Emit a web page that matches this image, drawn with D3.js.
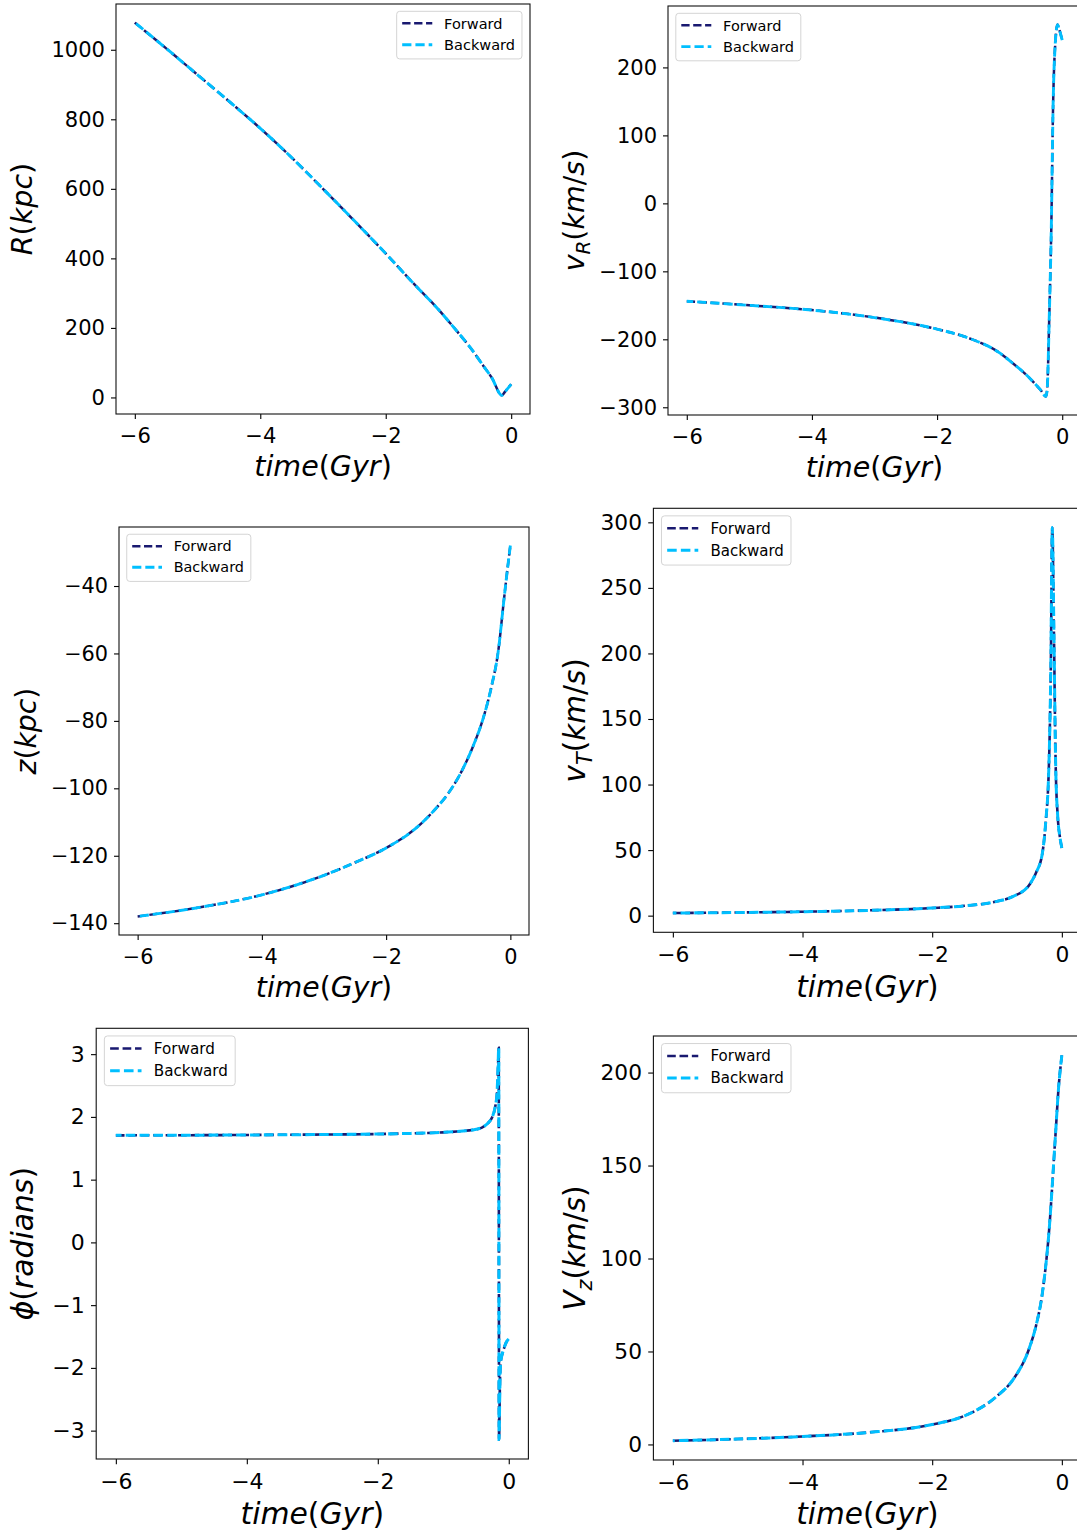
<!DOCTYPE html>
<html>
<head>
<meta charset="utf-8">
<script src="https://cdn.jsdelivr.net/npm/d3@7"></script>
<style>
  body { margin: 0; background: #fff; }
  svg { display: block; }
</style>
</head>
<body>
<svg id="fig" width="1077" height="1531"></svg>
<script>
// orbit values (time in Gyr)
const timeR = [-6, -5.5, -5, -4.5, -4, -3.5, -3, -2.5, -2, -1.5, -1.2, -0.89, -0.65, -0.44, -0.31, -0.148, -0.1, -0.05, 0];
const valR  = [1078, 1004, 928, 852, 774, 690, 600, 508, 414, 317, 261, 196, 143, 90, 57, 6, 16, 27, 38];

const timeVR = [-6, -5, -4, -3, -2, -1.5, -1, -0.78, -0.6, -0.46, -0.35, -0.26, -0.24, -0.208, -0.176, -0.144, -0.112, -0.075, -0.048, 0];
const valVR  = [-144, -150, -157, -168, -185, -198, -220, -236, -250, -263, -274, -284, -273, -170, -43, 153, 234, 263, 256, 240];

const timeZ = [-6, -5, -4, -3, -2.5, -2, -1.5, -1.2, -1, -0.8, -0.6, -0.45, -0.3, -0.2, -0.1, -0.05, 0];
const valZ  = [-138, -135.3, -131.6, -125.8, -122, -117.7, -111.5, -106, -101.5, -95.5, -87.5, -80, -69.5, -60, -43.5, -35.5, -28];

const timeVT = [-6, -5, -4, -3, -2, -1.5, -1, -0.75, -0.5, -0.4, -0.3, -0.25, -0.2, -0.17, -0.148, -0.122, -0.095, -0.064, -0.03, 0];
const valVT  = [2.0, 2.4, 3.0, 4.0, 5.8, 7.5, 10.9, 14.7, 23.6, 32.5, 47.8, 70.6, 114, 190, 296, 215, 114, 76, 60, 51.6];

const timePhi = [-6, -5, -4, -3, -2, -1.5, -1, -0.7, -0.56, -0.41, -0.3, -0.255, -0.2, -0.18, -0.165, -0.153, -0.148, -0.14, -0.132, -0.122, -0.1, -0.076, -0.05, -0.025, 0];
const valPhi  = [1.706, 1.708, 1.712, 1.718, 1.727, 1.737, 1.754, 1.775, 1.79, 1.83, 1.92, 1.99, 2.2, 2.36, 2.74, 3.1, -3.14, -2.6, -2.1, -1.9, -1.78, -1.7, -1.62, -1.57, -1.54];

const timeVZ = [-6, -5, -4, -3, -2, -1.5, -1, -0.75, -0.5, -0.4, -0.3, -0.2, -0.1, -0.05, 0];
const valVZ  = [2.0, 2.9, 4.3, 6.4, 10.7, 15.4, 26, 35, 52, 63.6, 81.5, 113.7, 165.5, 192, 209.3];

const xTicks = [-6, -4, -2, 0];
const ticksR = [0, 200, 400, 600, 800, 1000];
const ticksVR = [-300, -200, -100, 0, 100, 200];
const ticksZ = [-140, -120, -100, -80, -60, -40];
const ticksVT = [0, 50, 100, 150, 200, 250, 300];
const ticksPhi = [-3, -2, -1, 0, 1, 2, 3];
const ticksVZ = [0, 50, 100, 150, 200];

const seriesNames = ["Forward", "Backward"];
const seriesColors = ["#191970", "#00bfff"];

const FONT = "DejaVu Sans";
const svg = d3.select("#fig");
svg.append("rect").attr("width", 1077).attr("height", 1531).attr("fill", "#fff");

// label pieces: i = italic letter, r = roman, s = italic subscript
const timeLabel = [["time", "i"], ["(", "r"], ["Gyr", "i"], [")", "r"]];

const panels = [
    { time: timeR, values: valR, yTicks: ticksR, box: [116, 530, 4, 414], legend: "right", ylabOff: 84,
      ylabel: [["R", "i"], ["(", "r"], ["kpc", "i"], [")", "r"]] },
    { time: timeVR, values: valVR, yTicks: ticksVR, box: [668, 1081, 6, 415], legend: "left", ylabOff: 84,
      ylabel: [["v", "i"], ["R", "s"], ["(", "r"], ["km", "i"], ["/", "r"], ["s", "i"], [")", "r"]] },
    { time: timeZ, values: valZ, yTicks: ticksZ, box: [119, 529, 527, 935], legend: "left", ylabOff: 83,
      ylabel: [["z", "i"], ["(", "r"], ["kpc", "i"], [")", "r"]] },
    { time: timeVT, values: valVT, yTicks: ticksVT, box: [653.4, 1081.3, 508.3, 932.3], legend: "left", ylabOff: 68,
      ylabel: [["v", "i"], ["T", "s"], ["(", "r"], ["km", "i"], ["/", "r"], ["s", "i"], [")", "r"]] },
    { time: timePhi, values: valPhi, yTicks: ticksPhi, box: [96.2, 528.4, 1028.3, 1459], legend: "left", ylabOff: 63,
      ylabel: [["\u03D5", "i"], ["(", "r"], ["radians", "i"], [")", "r"]] },
    { time: timeVZ, values: valVZ, yTicks: ticksVZ, box: [653.4, 1081.3, 1036, 1460], legend: "left", ylabOff: 68,
      ylabel: [["V", "i"], ["z", "s"], ["(", "r"], ["km", "i"], ["/", "r"], ["s", "i"], [")", "r"]] }
];

function padExtent(arr) {
    const [a, b] = d3.extent(arr);
    const m = (b - a) * 0.05;
    return [a - m, b + m];
}

const fmt = d => d < 0 ? "\u2212" + Math.abs(d) : String(d);

function mathText(sel, parts, size) {
    let sub = false;
    parts.forEach(([txt, st]) => {
        const t = sel.append("tspan").text(txt);
        if (st === "s") {
            t.attr("font-style", "italic").attr("font-size", size * 0.7).attr("dy", size * 0.22);
            sub = true;
        } else {
            t.attr("font-style", st === "i" ? "italic" : "normal").attr("font-size", size);
            if (sub) { t.attr("dy", -size * 0.22); sub = false; }
        }
    });
}

function drawPanel(p, idx) {
    const [left, right, top, bottom] = p.box;
    const s = (right - left) / 413;
    const g = svg.append("g").attr("class", "panel");

    const x = d3.scaleLinear().domain(padExtent(p.time)).range([left, right]);
    const y = d3.scaleLinear().domain(padExtent(p.values)).range([bottom, top]);

    const clipId = "clip" + idx;
    g.append("clipPath").attr("id", clipId)
        .append("rect").attr("x", left).attr("y", top).attr("width", right - left).attr("height", bottom - top);

    // x axis
    g.append("g")
        .attr("transform", `translate(0,${bottom})`)
        .call(d3.axisBottom(x).tickValues(xTicks).tickFormat(fmt).tickSize(5 * s).tickSizeOuter(0))
        .call(a => a.select(".domain").remove())
        .call(a => a.selectAll(".tick line").attr("stroke", "#000").attr("stroke-width", 1.1))
        .call(a => a.selectAll("text")
            .attr("y", 29 * s).attr("dy", null)
            .attr("font-family", FONT).attr("font-size", 21 * s).attr("fill", "#000"));

    // y axis
    g.append("g")
        .attr("transform", `translate(${left},0)`)
        .call(d3.axisLeft(y).tickValues(p.yTicks).tickFormat(fmt).tickSize(5 * s).tickSizeOuter(0).tickPadding(6 * s))
        .call(a => a.select(".domain").remove())
        .call(a => a.selectAll(".tick line").attr("stroke", "#000").attr("stroke-width", 1.1))
        .call(a => a.selectAll("text")
            .attr("font-family", FONT).attr("font-size", 21 * s).attr("fill", "#000"));

    // curves: backward run goes the other way in time, drawn on top
    const pts = p.time.map((t, i) => [t, p.values[i]]);
    const line = d3.line().x(d => x(d[0])).y(d => y(d[1])).curve(d3.curveMonotoneX);
    const lines = g.append("g").attr("clip-path", `url(#${clipId})`);
    lines.append("path").datum(pts)
        .attr("d", line).attr("fill", "none")
        .attr("stroke", seriesColors[0]).attr("stroke-width", 2.5 * s)
        .attr("stroke-dasharray", `${8.3 * s},${3.6 * s}`);
    lines.append("path").datum(pts.slice().reverse())
        .attr("d", line).attr("fill", "none")
        .attr("stroke", seriesColors[1]).attr("stroke-width", 2.9 * s)
        .attr("stroke-dasharray", `${9.2 * s},${4 * s}`);

    // spines
    g.append("rect")
        .attr("x", left).attr("y", top).attr("width", right - left).attr("height", bottom - top)
        .attr("fill", "none").attr("stroke", "#111").attr("stroke-width", 1.1);

    // legend
    const lw = 125 * s, lh = 47.5 * s;
    const lx = p.legend === "right" ? right - 8 * s - lw : left + 7.8 * s;
    const ly = top + 7.3 * s;
    const lg = g.append("g").attr("transform", `translate(${lx},${ly})`);
    lg.append("rect")
        .attr("width", lw).attr("height", lh).attr("rx", 3 * s)
        .attr("fill", "rgba(255,255,255,0.8)").attr("stroke", "#d4d4d4").attr("stroke-width", 1);
    seriesNames.forEach((name, i) => {
        const cy = (12 + i * 21.3) * s;
        lg.append("line")
            .attr("x1", 5.5 * s).attr("x2", 35.5 * s).attr("y1", cy).attr("y2", cy)
            .attr("stroke", seriesColors[i]).attr("stroke-width", (i ? 2.9 : 2.5) * s)
            .attr("stroke-dasharray", i ? `${9.2 * s},${4 * s}` : `${8.3 * s},${3.6 * s}`);
        lg.append("text")
            .attr("x", 47.3 * s).attr("y", cy).attr("dy", "0.36em")
            .attr("font-family", FONT).attr("font-size", 14.5 * s).attr("fill", "#000")
            .text(name);
    });

    // axis labels
    const labSize = 28.5 * s;
    const xl = g.append("text")
        .attr("x", (left + right) / 2).attr("y", bottom + 62 * s)
        .attr("text-anchor", "middle").attr("font-family", FONT).attr("fill", "#000");
    mathText(xl, timeLabel, labSize);

    const cx = left - p.ylabOff, cyL = (top + bottom) / 2;
    const yl = g.append("text")
        .attr("transform", `translate(${cx},${cyL}) rotate(-90)`)
        .attr("text-anchor", "middle").attr("font-family", FONT).attr("fill", "#000");
    mathText(yl, p.ylabel, labSize);
}

panels.forEach(drawPanel);
</script>
</body>
</html>
